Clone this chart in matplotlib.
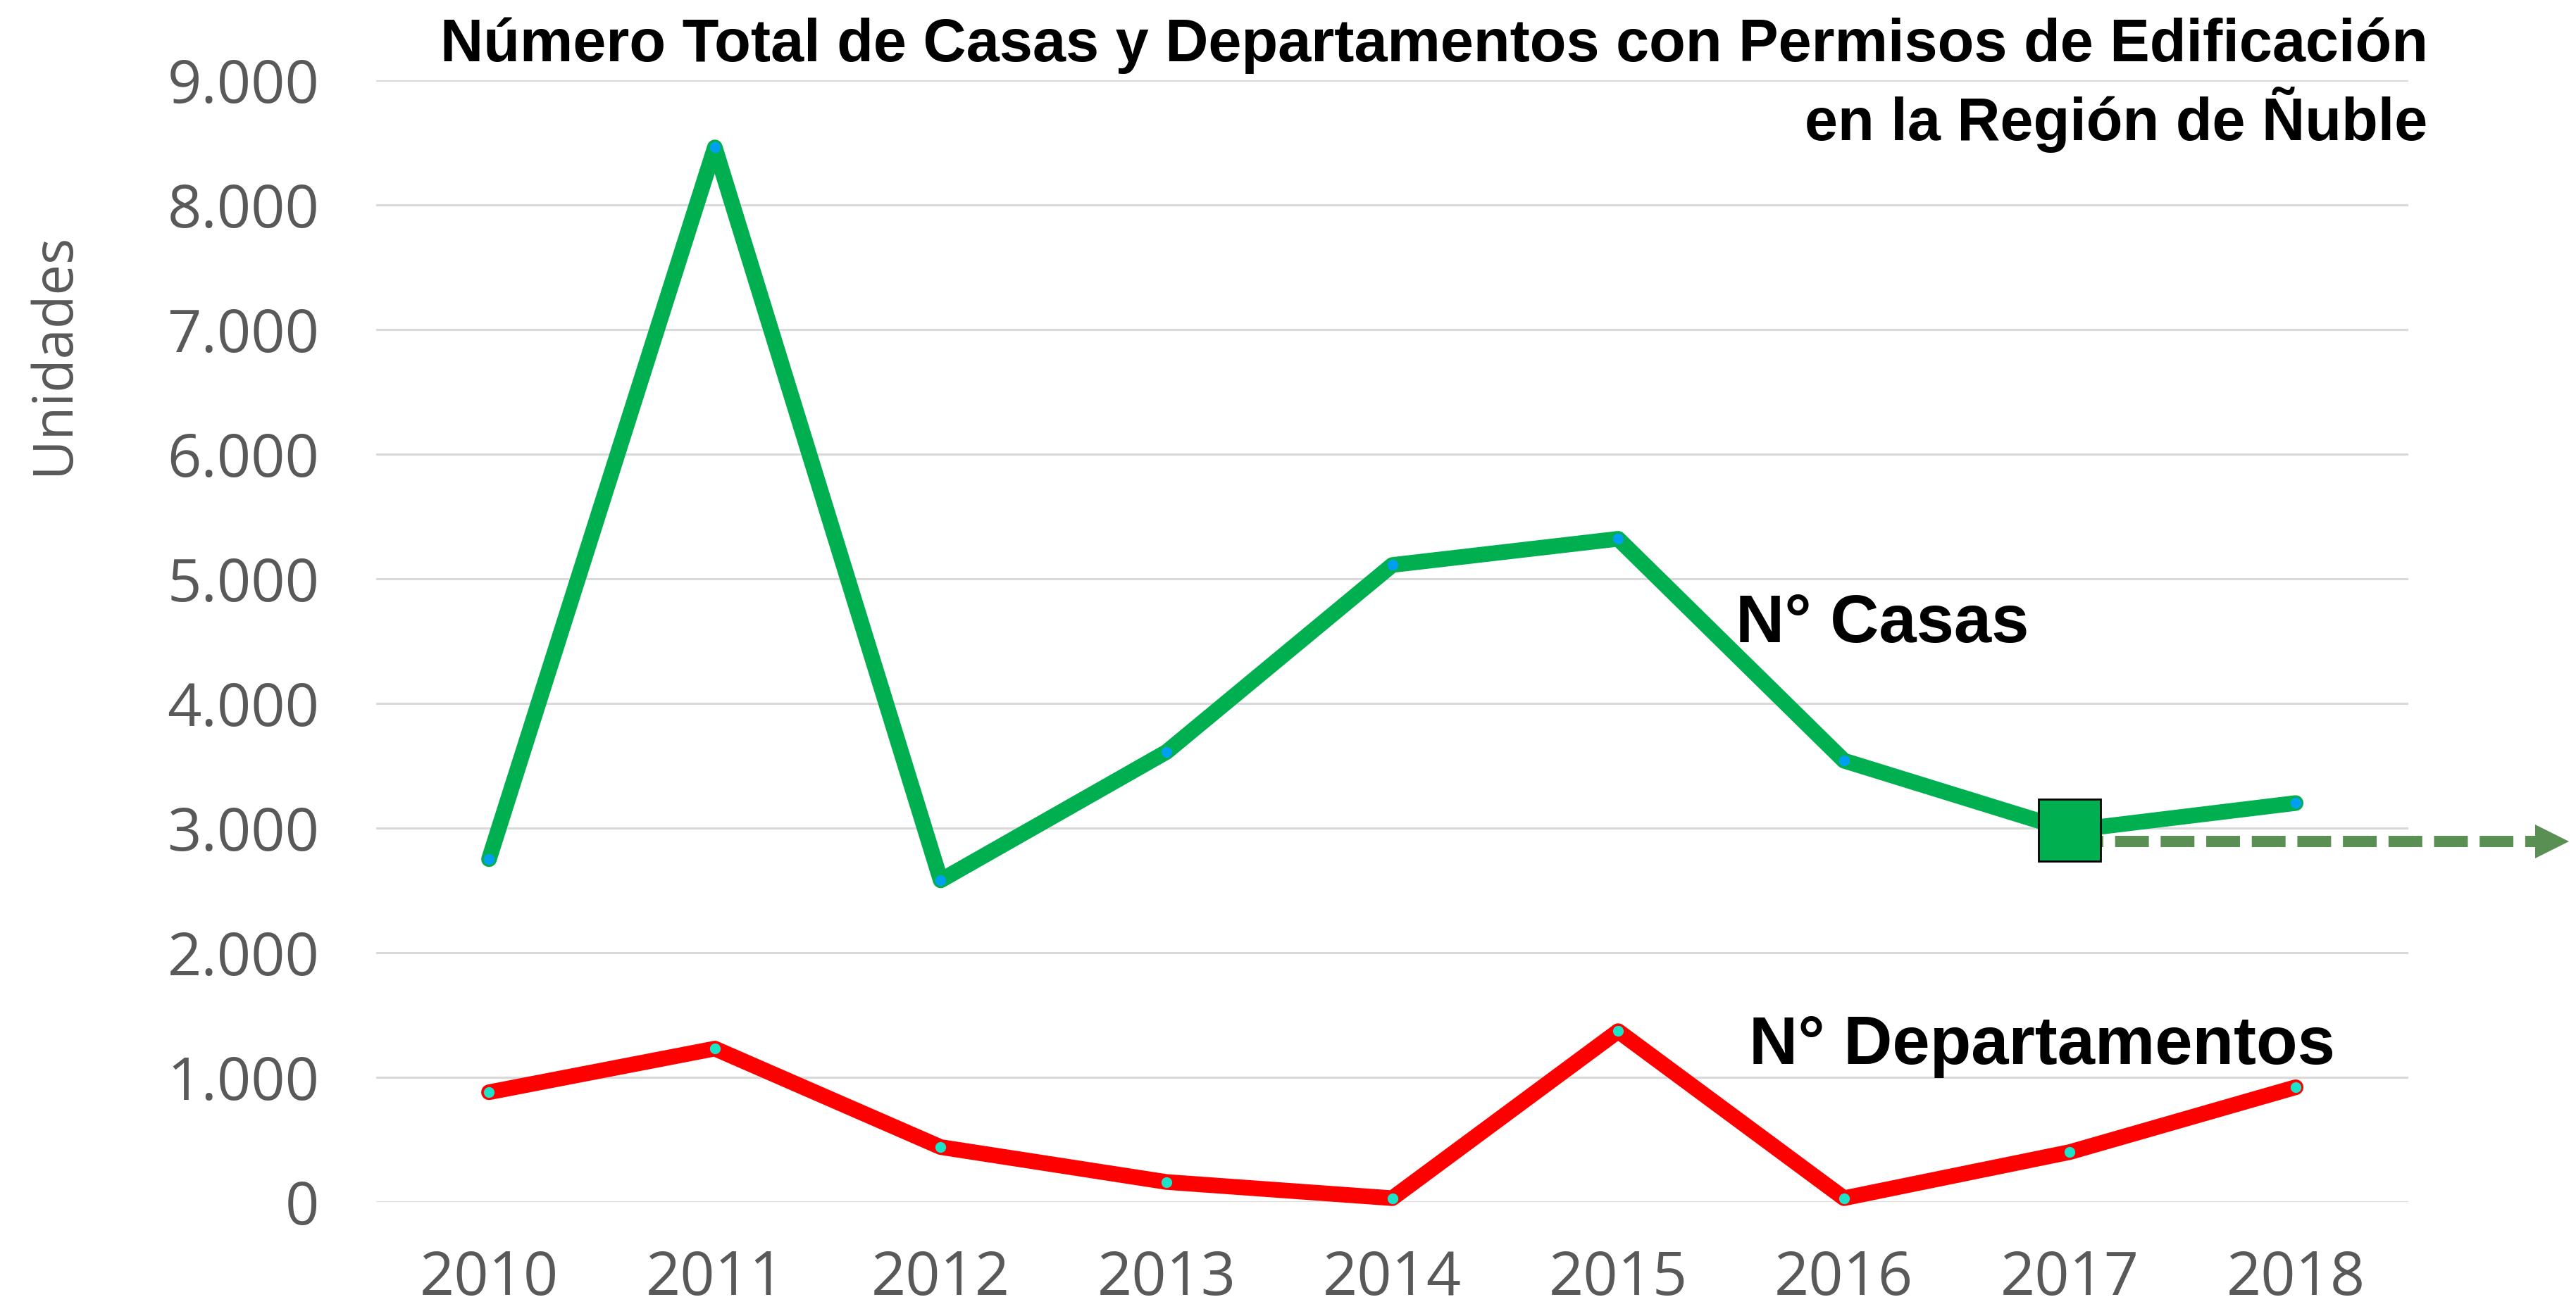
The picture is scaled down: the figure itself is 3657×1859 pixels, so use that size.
import matplotlib
matplotlib.use('Agg')
from matplotlib import pyplot as plt

years = [2010, 2011, 2012, 2013, 2014, 2015, 2016, 2017, 2018]
casas = [2750, 8460, 2580, 3610, 5110, 5320, 3540, 2980, 3200]
departamentos = [880, 1230, 440, 160, 30, 1370, 30, 400, 920]
yticks = [0, 1000, 2000, 3000, 4000, 5000, 6000, 7000, 8000, 9000]
ytick_labels = ['0', '1.000', '2.000', '3.000', '4.000', '5.000', '6.000', '7.000', '8.000', '9.000']

title_1 = 'Número Total de Casas y Departamentos con Permisos de Edificación'
title_2 = 'en la Región de Ñuble'

green = '#00B050'
red = '#FF0000'
gray = '#595959'

fig = plt.figure(figsize=(36.57, 18.59), dpi=100)
ax = fig.add_axes([0.146, 0.0818, 0.789, 0.857])

ax.plot(years, casas, color=green, linewidth=16, solid_joinstyle='round',
        solid_capstyle='round', marker='o', markersize=11,
        markerfacecolor='#00A0F0', markeredgewidth=0, clip_on=False, zorder=3)
ax.plot(years, departamentos, color=red, linewidth=16, solid_joinstyle='round',
        solid_capstyle='round', marker='o', markersize=11,
        markerfacecolor='#1DE3C8', markeredgewidth=0, clip_on=False, zorder=3)

# highlight 2017 and arrow to the right
arrow_y = casas[7] - 90
ax.plot([years[7], 2019.06], [arrow_y, arrow_y], color='#5A8F54', linewidth=11.5,
        dashes=(3, 1.05), dash_capstyle='butt', clip_on=False, zorder=2)
ax.plot([2019.135], [arrow_y], marker='>', markersize=34, color='#5A8F54',
        markeredgewidth=0, clip_on=False, zorder=2)
ax.plot([years[7]], [casas[7]], marker='s', markersize=63, markerfacecolor=green,
        markeredgecolor='black', markeredgewidth=2, clip_on=False, zorder=5)

ax.text(2015.52, 4630, 'N° Casas', fontsize=69, fontweight='bold',
        family='Liberation Sans', va='center', ha='left')
ax.text(2015.58, 1250, 'N° Departamentos', fontsize=69, fontweight='bold',
        family='Liberation Sans', va='center', ha='left')

fig.text(0.9425, 0.965, title_1, fontsize=61, fontweight='bold',
         family='Liberation Sans', ha='right', va='center')
fig.text(0.9425, 0.9085, title_2, fontsize=61, fontweight='bold',
         family='Liberation Sans', ha='right', va='center')

ax.set_xlim(2009.5, 2018.5)
ax.set_ylim(0, 9000)
ax.set_xticks(years)
ax.set_xticklabels([str(y) for y in years], fontsize=62, color=gray, family='Open Sans')
ax.set_yticks(yticks)
ax.set_yticklabels(ytick_labels, fontsize=61, color=gray, family='Open Sans')
ax.tick_params(axis='both', length=0)
ax.tick_params(axis='x', pad=48)
ax.tick_params(axis='y', pad=58)
ax.grid(axis='y', color='#D9D9D9', linewidth=2.2)
ax.set_axisbelow(True)
for s in ax.spines.values():
    s.set_visible(False)

fig.text(0.021, 0.73, 'Unidades', fontsize=56, color=gray, family='Open Sans',
         rotation=90, ha='center', va='center')

plt.savefig('out.png', dpi=100)
